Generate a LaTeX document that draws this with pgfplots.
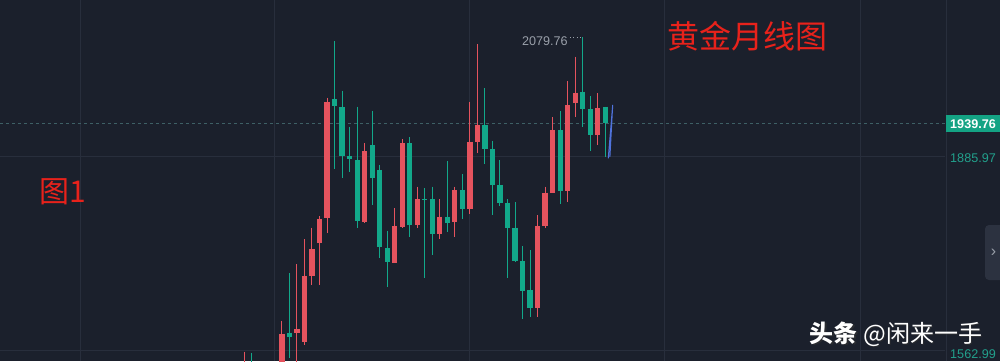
\documentclass[border=0pt]{standalone}
\usepackage{pgfplots}
\usepackage{pgfplotstable}
\pgfplotsset{compat=1.18}
\usepackage{fontspec}
\setmainfont{Liberation Sans}
\newfontfamily\cjk{Noto Sans CJK SC}
\definecolor{bgc}{RGB}{27,32,44}
\definecolor{gridc}{RGB}{40,46,60}
\definecolor{upc}{RGB}{229,83,94}
\definecolor{dnc}{RGB}{18,168,138}
\definecolor{dashc}{RGB}{62,96,102}
\definecolor{tagc}{RGB}{20,163,132}
\definecolor{lblc}{RGB}{34,160,140}
\definecolor{greyc}{RGB}{154,160,170}
\definecolor{titlec}{RGB}{232,34,27}
\definecolor{bluel}{RGB}{80,115,220}
\definecolor{btnc}{RGB}{44,50,64}

% k open high low close  (rising months, red)
\pgfplotstableread{
k open high low close
0 1535 1566.1 1525 1548
3 1520 1540 1505 1530
4 1530 1548 1520 1545
5 1545 1616.7 1535 1595.0
7 1596.6 1708.9 1545 1603.6
8 1582.4 1750.2 1577.0 1689.8
9 1689.8 1768.7 1675.1 1733.9
10 1743.2 1787.8 1675.1 1782.9
11 1785.0 1981.1 1759.5 1974.6
16 1778.5 1906.6 1775.9 1894.0
20 1711.5 1800.4 1710.5 1771.5
21 1770.3 1913.1 1767.7 1906.6
23 1773.1 1835.7 1767.7 1815.6
26 1758.4 1815.6 1749.7 1786.7
28 1777.5 1835.7 1754.0 1830.3
30 1798.7 1974.6 1791.1 1909.2
31 1909.2 2068.8 1890.2 1936.5
39 1638.0 1789.4 1622.3 1771.5
40 1771.5 1835.7 1767.7 1825.9
41 1825.9 1949.1 1824.9 1928.3
43 1828.6 2008.4 1810.2 1969.2
44 1972.9 2048.1 1949.1 1989.3
47 1920.2 1988.3 1903.8 1963.8
}\upcandles

% falling months, green
\pgfplotstableread{
k open high low close
1 1545 1563.4 1525 1535
2 1535 1545 1500 1520
6 1597.1 1694.2 1555.3 1590.1
12 1979.0 2073.7 1864.1 1968.0
13 1965.4 1992.5 1849.4 1886.3
14 1885.8 1933.7 1860.2 1880.4
15 1879.3 1966.4 1768.7 1779.6
17 1903.8 1959.9 1805.8 1850.4
18 1863.0 1871.1 1719.7 1737.6
19 1735.0 1763.8 1672.3 1712.1
22 1906.6 1916.4 1753.0 1773.1
24 1815.6 1833.1 1686.0 1814.3
25 1815.6 1835.7 1724.1 1758.4
27 1786.7 1877.7 1762.1 1776.9
29 1830.3 1855.9 1782.4 1798.7
32 1936.5 1996.5 1872.8 1897.3
33 1897.3 1910.8 1789.4 1838.5
34 1838.5 1879.3 1804.1 1808.5
35 1809.5 1815.1 1686.0 1768.7
36 1768.7 1810.2 1713.1 1714.3
37 1714.3 1738.8 1619.0 1665.3
38 1666.9 1732.2 1622.3 1638.0
42 1928.3 1959.4 1807.4 1828.6
45 1990.9 2079.76 1933.7 1962.6
46 1962.6 1983.9 1894.5 1920.2
48 1966.4 1966.4 1884.7 1939.76
}\dncandles

\pgfplotsset{candle/.style={draw=none, mark=none, forget plot,
  error bars/.cd, y dir=minus, y explicit, error mark=none}}

\begin{document}
\begin{tikzpicture}
\fill[bgc] (0,0) rectangle (500pt,180.5pt);
\clip (0,0) rectangle (500pt,180.5pt);
\begin{axis}[
  at={(0,0)}, anchor=south west,
  scale only axis, width=472.5pt, height=180.5pt,
  xmin=-32.49, xmax=93.18, ymin=1550.87, ymax=2140.74,
  axis line style={draw=none}, tick style={draw=none},
  major tick length=0pt,
  xtick={-21.85,4.08,30.0,55.9,81.9}, ytick={1568.8,1885.8},
  xticklabels={}, yticklabels={},
  xmajorgrids, ymajorgrids,
  grid style={gridc, line width=0.5pt},
]
% current price line
\addplot[dashc, line width=0.5pt, dash pattern=on 1.5pt off 1.5pt] coordinates {(-32.49,1939.76) (93.18,1939.76)};
% wicks
\addplot[candle, error bar style={draw=upc, line width=0.5pt}]
  table[x=k, y=high, y error minus expr={\thisrow{high}-\thisrow{low}}] {\upcandles};
\addplot[candle, error bar style={draw=dnc, line width=0.5pt}]
  table[x=k, y=high, y error minus expr={\thisrow{high}-\thisrow{low}}] {\dncandles};
% bodies
\addplot[candle, error bar style={draw=upc, line width=2.6pt}]
  table[x=k, y=close, y error minus expr={\thisrow{close}-\thisrow{open}}] {\upcandles};
\addplot[candle, error bar style={draw=dnc, line width=2.6pt}]
  table[x=k, y=open, y error minus expr={\thisrow{open}-\thisrow{close}}] {\dncandles};
% hand-drawn blue stroke
\addplot[bluel, line width=0.5pt] coordinates {(48.40,1882.1) (48.99,1969.2) (48.62,1884.5)};
\end{axis}
% right price scale
\draw[gridc, line width=0.5pt] (473pt,0) -- (473pt,180.5pt);
\fill[tagc] (473pt,114.5pt) rectangle (500pt,123pt);
\node[inner sep=0pt, text=white] at (486.5pt,118.6pt) {\fontsize{6.3pt}{7pt}\selectfont\bfseries 1939.76};
\node[inner sep=0pt, text=lblc] at (486.5pt,101.5pt) {\fontsize{6.3pt}{7pt}\selectfont 1885.97};
\node[inner sep=0pt, text=lblc] at (486.5pt,3.6pt) {\fontsize{6.3pt}{7pt}\selectfont 1562.99};
% high marker
\node[inner sep=0pt, anchor=east, text=greyc] at (284pt,159.7pt) {\fontsize{6.3pt}{7pt}\selectfont 2079.76};
\draw[greyc, line width=0.5pt, dash pattern=on 0.5pt off 1.2pt] (285pt,162pt) -- (290.5pt,162pt);
% titles
\node[inner sep=0pt, text=titlec] at (373.5pt,162.3pt) {\cjk\fontsize{16pt}{18pt}\selectfont 黄金月线图};
\node[inner sep=0pt, text=titlec] at (31.5pt,84.5pt) {\cjk\fontsize{15pt}{17pt}\selectfont 图1};
% watermark
\node[inner sep=0pt, text=black!80, opacity=0.6] at (448.6pt,13pt) {\cjk\fontsize{12pt}{14pt}\selectfont\textbf{头条} @闲来一手};
\node[inner sep=0pt, text=white] at (448pt,13.5pt) {\cjk\fontsize{12pt}{14pt}\selectfont\textbf{头条} @闲来一手};
% side button
\fill[btnc, rounded corners=2pt] (492.5pt,40.5pt) rectangle (504pt,68pt);
\node[inner sep=0pt, text=greyc] at (496.8pt,54.3pt) {\fontsize{8pt}{9pt}\selectfont ›};
\end{tikzpicture}
\end{document}
